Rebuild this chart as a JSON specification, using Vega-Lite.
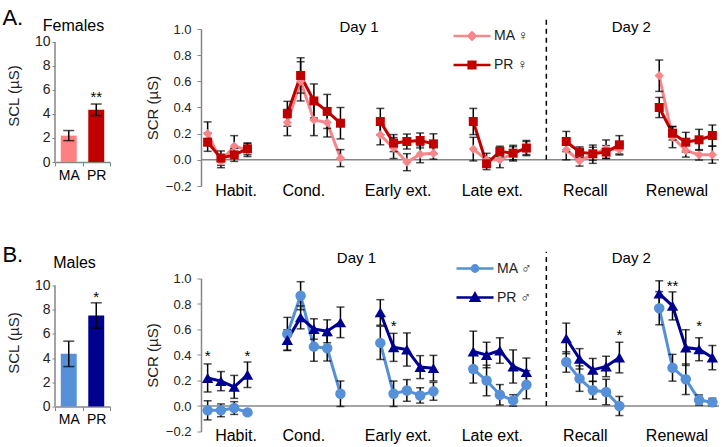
{
  "$schema": "https://vega.github.io/schema/vega-lite/v6.json",
  "padding": {"left": 2, "top": 6, "right": 2, "bottom": 2},
  "config": {
    "font": "Liberation Sans",
    "view": {"stroke": null},
    "axis": {"grid": false, "domainColor": "#868686", "tickColor": "#868686", "labelColor": "#222222", "titleColor": "#222222", "titleFontWeight": "normal", "domainWidth": 1.5, "labelOverlap": false, "tickCount": 20}
  },
  "resolve": {"scale": {"x": "independent", "y": "independent", "color": "independent"}},
  "datasets": {
    "fem": [
      {"g": "MA ♀", "p": "H", "x": 0.5, "v": 0.2, "e": 0.09},
      {"g": "MA ♀", "p": "H", "x": 1.5, "v": -0.01, "e": 0.05},
      {"g": "MA ♀", "p": "H", "x": 2.5, "v": 0.105, "e": 0.08},
      {"g": "MA ♀", "p": "H", "x": 3.5, "v": 0.075, "e": 0.05},
      {"g": "MA ♀", "p": "C", "x": 6.5, "v": 0.285, "e": 0.1},
      {"g": "MA ♀", "p": "C", "x": 7.5, "v": 0.6, "e": 0.15},
      {"g": "MA ♀", "p": "C", "x": 8.5, "v": 0.305, "e": 0.12},
      {"g": "MA ♀", "p": "C", "x": 9.5, "v": 0.285, "e": 0.11},
      {"g": "MA ♀", "p": "C", "x": 10.5, "v": 0.013, "e": 0.065},
      {"g": "MA ♀", "p": "E", "x": 13.5, "v": 0.19, "e": 0.075},
      {"g": "MA ♀", "p": "E", "x": 14.5, "v": 0.09, "e": 0.08},
      {"g": "MA ♀", "p": "E", "x": 15.5, "v": -0.018, "e": 0.065},
      {"g": "MA ♀", "p": "E", "x": 16.5, "v": 0.043, "e": 0.065},
      {"g": "MA ♀", "p": "E", "x": 17.5, "v": 0.05, "e": 0.045},
      {"g": "MA ♀", "p": "L", "x": 20.5, "v": 0.082, "e": 0.09},
      {"g": "MA ♀", "p": "L", "x": 21.5, "v": 0.0, "e": 0.05},
      {"g": "MA ♀", "p": "L", "x": 22.5, "v": 0.0, "e": 0.06},
      {"g": "MA ♀", "p": "L", "x": 23.5, "v": 0.05, "e": 0.05},
      {"g": "MA ♀", "p": "L", "x": 24.5, "v": 0.09, "e": 0.05},
      {"g": "MA ♀", "p": "R", "x": 27.5, "v": 0.077, "e": 0.077},
      {"g": "MA ♀", "p": "R", "x": 28.5, "v": -0.008, "e": 0.04},
      {"g": "MA ♀", "p": "R", "x": 29.5, "v": 0.043, "e": 0.07},
      {"g": "MA ♀", "p": "R", "x": 30.5, "v": 0.082, "e": 0.07},
      {"g": "MA ♀", "p": "R", "x": 31.5, "v": 0.077, "e": 0.04},
      {"g": "MA ♀", "p": "N", "x": 34.5, "v": 0.643, "e": 0.12},
      {"g": "MA ♀", "p": "N", "x": 35.5, "v": 0.173, "e": 0.08},
      {"g": "MA ♀", "p": "N", "x": 36.5, "v": 0.071, "e": 0.05},
      {"g": "MA ♀", "p": "N", "x": 37.5, "v": 0.038, "e": 0.04},
      {"g": "MA ♀", "p": "N", "x": 38.5, "v": 0.038, "e": 0.065},
      {"g": "PR ♀", "p": "H", "x": 0.5, "v": 0.135, "e": 0.07},
      {"g": "PR ♀", "p": "H", "x": 1.5, "v": 0.013, "e": 0.055},
      {"g": "PR ♀", "p": "H", "x": 2.5, "v": 0.038, "e": 0.05},
      {"g": "PR ♀", "p": "H", "x": 3.5, "v": 0.084, "e": 0.045},
      {"g": "PR ♀", "p": "C", "x": 6.5, "v": 0.352, "e": 0.095},
      {"g": "PR ♀", "p": "C", "x": 7.5, "v": 0.645, "e": 0.135},
      {"g": "PR ♀", "p": "C", "x": 8.5, "v": 0.45, "e": 0.13},
      {"g": "PR ♀", "p": "C", "x": 9.5, "v": 0.37, "e": 0.13},
      {"g": "PR ♀", "p": "C", "x": 10.5, "v": 0.28, "e": 0.12},
      {"g": "PR ♀", "p": "E", "x": 13.5, "v": 0.293, "e": 0.1},
      {"g": "PR ♀", "p": "E", "x": 14.5, "v": 0.128, "e": 0.065},
      {"g": "PR ♀", "p": "E", "x": 15.5, "v": 0.14, "e": 0.057},
      {"g": "PR ♀", "p": "E", "x": 16.5, "v": 0.148, "e": 0.057},
      {"g": "PR ♀", "p": "E", "x": 17.5, "v": 0.122, "e": 0.077},
      {"g": "PR ♀", "p": "L", "x": 20.5, "v": 0.293, "e": 0.1},
      {"g": "PR ♀", "p": "L", "x": 21.5, "v": -0.03, "e": 0.045},
      {"g": "PR ♀", "p": "L", "x": 22.5, "v": 0.064, "e": 0.04},
      {"g": "PR ♀", "p": "L", "x": 23.5, "v": 0.051, "e": 0.06},
      {"g": "PR ♀", "p": "L", "x": 24.5, "v": 0.09, "e": 0.058},
      {"g": "PR ♀", "p": "R", "x": 27.5, "v": 0.14, "e": 0.077},
      {"g": "PR ♀", "p": "R", "x": 28.5, "v": 0.059, "e": 0.04},
      {"g": "PR ♀", "p": "R", "x": 29.5, "v": 0.046, "e": 0.05},
      {"g": "PR ♀", "p": "R", "x": 30.5, "v": 0.059, "e": 0.05},
      {"g": "PR ♀", "p": "R", "x": 31.5, "v": 0.115, "e": 0.07},
      {"g": "PR ♀", "p": "N", "x": 34.5, "v": 0.4, "e": 0.077},
      {"g": "PR ♀", "p": "N", "x": 35.5, "v": 0.204, "e": 0.052},
      {"g": "PR ♀", "p": "N", "x": 36.5, "v": 0.135, "e": 0.075},
      {"g": "PR ♀", "p": "N", "x": 37.5, "v": 0.153, "e": 0.08},
      {"g": "PR ♀", "p": "N", "x": 38.5, "v": 0.186, "e": 0.08}
    ],
    "mal": [
      {"g": "MA ♂", "p": "H", "x": 0.5, "v": -0.034, "e": 0.075},
      {"g": "MA ♂", "p": "H", "x": 1.5, "v": -0.034, "e": 0.05},
      {"g": "MA ♂", "p": "H", "x": 2.5, "v": -0.016, "e": 0.05},
      {"g": "MA ♂", "p": "H", "x": 3.5, "v": -0.05, "e": 0.015},
      {"g": "MA ♂", "p": "C", "x": 6.5, "v": 0.565, "e": 0.13},
      {"g": "MA ♂", "p": "C", "x": 7.5, "v": 0.865, "e": 0.11},
      {"g": "MA ♂", "p": "C", "x": 8.5, "v": 0.466, "e": 0.115},
      {"g": "MA ♂", "p": "C", "x": 9.5, "v": 0.453, "e": 0.1},
      {"g": "MA ♂", "p": "C", "x": 10.5, "v": 0.096, "e": 0.1},
      {"g": "MA ♂", "p": "E", "x": 13.5, "v": 0.495, "e": 0.13},
      {"g": "MA ♂", "p": "E", "x": 14.5, "v": 0.096, "e": 0.1},
      {"g": "MA ♂", "p": "E", "x": 15.5, "v": 0.122, "e": 0.085},
      {"g": "MA ♂", "p": "E", "x": 16.5, "v": 0.083, "e": 0.06},
      {"g": "MA ♂", "p": "E", "x": 17.5, "v": 0.115, "e": 0.07},
      {"g": "MA ♂", "p": "L", "x": 20.5, "v": 0.29, "e": 0.11},
      {"g": "MA ♂", "p": "L", "x": 21.5, "v": 0.2, "e": 0.12},
      {"g": "MA ♂", "p": "L", "x": 22.5, "v": 0.088, "e": 0.08},
      {"g": "MA ♂", "p": "L", "x": 23.5, "v": 0.044, "e": 0.045},
      {"g": "MA ♂", "p": "L", "x": 24.5, "v": 0.167, "e": 0.11},
      {"g": "MA ♂", "p": "R", "x": 27.5, "v": 0.345, "e": 0.08},
      {"g": "MA ♂", "p": "R", "x": 28.5, "v": 0.215, "e": 0.1},
      {"g": "MA ♂", "p": "R", "x": 29.5, "v": 0.123, "e": 0.07},
      {"g": "MA ♂", "p": "R", "x": 30.5, "v": 0.11, "e": 0.1},
      {"g": "MA ♂", "p": "R", "x": 31.5, "v": 0.0, "e": 0.075},
      {"g": "MA ♂", "p": "N", "x": 34.5, "v": 0.767, "e": 0.13},
      {"g": "MA ♂", "p": "N", "x": 35.5, "v": 0.3, "e": 0.105},
      {"g": "MA ♂", "p": "N", "x": 36.5, "v": 0.21, "e": 0.12},
      {"g": "MA ♂", "p": "N", "x": 37.5, "v": 0.047, "e": 0.04},
      {"g": "MA ♂", "p": "N", "x": 38.5, "v": 0.03, "e": 0.03},
      {"g": "PR ♂", "p": "H", "x": 0.5, "v": 0.22, "e": 0.11},
      {"g": "PR ♂", "p": "H", "x": 1.5, "v": 0.195, "e": 0.075},
      {"g": "PR ♂", "p": "H", "x": 2.5, "v": 0.15, "e": 0.09},
      {"g": "PR ♂", "p": "H", "x": 3.5, "v": 0.245, "e": 0.1},
      {"g": "PR ♂", "p": "C", "x": 6.5, "v": 0.518, "e": 0.08},
      {"g": "PR ♂", "p": "C", "x": 7.5, "v": 0.695, "e": 0.09},
      {"g": "PR ♂", "p": "C", "x": 8.5, "v": 0.604, "e": 0.08},
      {"g": "PR ♂", "p": "C", "x": 9.5, "v": 0.586, "e": 0.09},
      {"g": "PR ♂", "p": "C", "x": 10.5, "v": 0.656, "e": 0.12},
      {"g": "PR ♂", "p": "E", "x": 13.5, "v": 0.734, "e": 0.1},
      {"g": "PR ♂", "p": "E", "x": 14.5, "v": 0.46, "e": 0.11},
      {"g": "PR ♂", "p": "E", "x": 15.5, "v": 0.443, "e": 0.13},
      {"g": "PR ♂", "p": "E", "x": 16.5, "v": 0.305, "e": 0.09},
      {"g": "PR ♂", "p": "E", "x": 17.5, "v": 0.297, "e": 0.1},
      {"g": "PR ♂", "p": "L", "x": 20.5, "v": 0.427, "e": 0.16},
      {"g": "PR ♂", "p": "L", "x": 21.5, "v": 0.4, "e": 0.1},
      {"g": "PR ♂", "p": "L", "x": 22.5, "v": 0.435, "e": 0.1},
      {"g": "PR ♂", "p": "L", "x": 23.5, "v": 0.31, "e": 0.13},
      {"g": "PR ♂", "p": "L", "x": 24.5, "v": 0.266, "e": 0.11},
      {"g": "PR ♂", "p": "R", "x": 27.5, "v": 0.53, "e": 0.12},
      {"g": "PR ♂", "p": "R", "x": 28.5, "v": 0.37, "e": 0.08},
      {"g": "PR ♂", "p": "R", "x": 29.5, "v": 0.283, "e": 0.09},
      {"g": "PR ♂", "p": "R", "x": 30.5, "v": 0.31, "e": 0.08},
      {"g": "PR ♂", "p": "R", "x": 31.5, "v": 0.38, "e": 0.12},
      {"g": "PR ♂", "p": "N", "x": 34.5, "v": 0.882, "e": 0.1},
      {"g": "PR ♂", "p": "N", "x": 35.5, "v": 0.785, "e": 0.11},
      {"g": "PR ♂", "p": "N", "x": 36.5, "v": 0.458, "e": 0.14},
      {"g": "PR ♂", "p": "N", "x": 37.5, "v": 0.445, "e": 0.09},
      {"g": "PR ♂", "p": "N", "x": 38.5, "v": 0.38, "e": 0.095}
    ],
    "ast": [
      {"x": 0.5, "y": 0.355, "t": "*"},
      {"x": 3.5, "y": 0.355, "t": "*"},
      {"x": 14.5, "y": 0.585, "t": "*"},
      {"x": 31.5, "y": 0.515, "t": "*"},
      {"x": 35.5, "y": 0.9, "t": "**"},
      {"x": 37.5, "y": 0.59, "t": "*"}
    ]
  },
  "spacing": 45.5,
  "vconcat": [
    {
      "title": {"text": "A.", "fontSize": 22, "fontWeight": "normal", "anchor": "start", "frame": "bounds", "offset": 0, "dy": 13.5, "dx": -4, "color": "black"},
      "spacing": 34,
      "resolve": {"scale": {"x": "independent", "y": "independent", "color": "independent"}},
      "hconcat": [
        {
          "width": 55, "height": 133,
          "title": {"text": "Females", "fontSize": 16, "fontWeight": "normal", "offset": -5, "dx": -9, "color": "black"},
          "data": {"values": [{"g": "MA", "v": 2.2, "e": 0.42}, {"g": "PR", "v": 4.35, "e": 0.48}]},
          "layer": [
            {
              "mark": {"type": "bar", "width": {"band": 0.58}},
              "encoding": {
                "x": {"field": "g", "type": "nominal", "scale": {"paddingInner": 0, "paddingOuter": 0}, "axis": {"title": null, "labelAngle": 0, "labelFontSize": 14, "labelColor": "black", "tickSize": 4, "tickBand": "extent", "labelPadding": 2}},
                "y": {"field": "v", "type": "quantitative", "title": "SCL (µS)", "scale": {"domain": [0, 11.08], "nice": false}, "axis": {"values": [0, 2, 4, 6, 8, 10], "format": "d", "tickCount": 20, "tickSize": 3, "labelPadding": 2, "labelFontSize": 14, "titleFontSize": 15, "titlePadding": 13, "domain": false}},
                "color": {"field": "g", "type": "nominal", "scale": {"domain": ["MA", "PR"], "range": ["#ff8080", "#c00000"]}, "legend": null}
              }
            },
            {
              "data": {"values": [{}]},
              "mark": {"type": "rule", "color": "#868686", "strokeWidth": 1.5},
              "encoding": {"x": {"datum": "MA", "bandPosition": 0}, "y": {"datum": 0}, "y2": {"datum": 10}}
            },
            {
              "mark": {"type": "errorbar", "ticks": true, "color": "black", "thickness": 1.5, "size": 11},
              "encoding": {
                "x": {"field": "g", "type": "nominal"},
                "y": {"field": "v", "type": "quantitative", "title": "SCL (µS)"},
                "yError": {"field": "e"}
              }
            },
            {
              "data": {"values": [{}]},
              "mark": {"type": "text", "text": "**", "fontSize": 15, "baseline": "alphabetic", "color": "black"},
              "encoding": {"x": {"datum": "PR"}, "y": {"datum": 5.0}}
            }
          ]
        },
        {
          "width": 518, "height": 157,
          "layer": [
            {
              "data": {"values": [{}]},
              "mark": {"type": "rule", "color": "#868686", "strokeWidth": 1.5},
              "encoding": {"y": {"datum": 0, "type": "quantitative"}}
            },
            {
              "data": {"values": [{}]},
              "mark": {"type": "rule", "color": "black", "strokeWidth": 1.5, "strokeDash": [5, 4]},
              "encoding": {"x": {"datum": 26, "type": "quantitative"}, "y": {"datum": 0, "type": "quantitative"}, "y2": {"datum": 1.093}}
            },
            {
              "data": {"values": [{}]},
              "mark": {"type": "text", "text": "Day 1", "fontSize": 15, "baseline": "alphabetic", "color": "black"},
              "encoding": {"x": {"datum": 11.9, "type": "quantitative"}, "y": {"datum": 0.98, "type": "quantitative"}}
            },
            {
              "data": {"values": [{}]},
              "mark": {"type": "text", "text": "Day 2", "fontSize": 15, "baseline": "alphabetic", "color": "black"},
              "encoding": {"x": {"datum": 32.4, "type": "quantitative"}, "y": {"datum": 0.98, "type": "quantitative"}}
            },
            {
              "data": {"name": "fem"},
              "mark": {"type": "line", "strokeWidth": 3},
              "encoding": {
                "x": {"field": "x", "type": "quantitative", "title": null, "scale": {"domain": [0, 39], "nice": false, "zero": false},
                  "axis": {"values": [2.6, 7.7, 14.8, 21.9, 28.9, 35.8], "tickCount": 40, "labelExpr": "datum.value < 5 ? 'Habit.' : datum.value < 11 ? 'Cond.' : datum.value < 18 ? 'Early ext.' : datum.value < 25 ? 'Late ext.' : datum.value < 32 ? 'Recall' : 'Renewal'", "domain": false, "ticks": false, "labelPadding": -4, "labelFontSize": 16, "labelColor": "black", "labelFlush": false, "labelOverlap": false, "labelBound": false}},
                "y": {"field": "v", "type": "quantitative", "title": "SCR (µS)", "scale": {"domain": [-0.2, 1.0], "nice": false, "zero": false},
                  "axis": {"values": [-0.2, 0, 0.2, 0.4, 0.6, 0.8, 1.0], "tickCount": 20, "format": ".1f", "tickSize": 4, "labelPadding": 6, "labelFontSize": 13, "titleFontSize": 15, "titlePadding": 5, "labelOverlap": false}},
                "color": {"field": "g", "type": "nominal", "scale": {"domain": ["MA ♀", "PR ♀"], "range": ["#f7868a", "#c00000"]},
                  "legend": {"orient": "none", "legendX": 251, "legendY": -13, "title": null, "labelFontSize": 14, "labelColor": "#222222", "symbolSize": 1369, "symbolStrokeWidth": 2.5, "labelOffset": 2, "rowPadding": -16, "padding": 0,
                    "encode": {"symbols": {"update": {
                      "shape": {"signal": "datum.value == 'MA ♀' ? 'M-1,0L1,0M0,-0.2L0.2,0L0,0.2L-0.2,0Z' : 'M-1,0L1,0M-0.18,-0.18L0.18,-0.18L0.18,0.18L-0.18,0.18Z'"},
                      "fill": {"signal": "datum.value == 'MA ♀' ? '#f7868a' : '#c00000'"},
                      "stroke": {"signal": "datum.value == 'MA ♀' ? '#f7868a' : '#c00000'"},
                      "strokeWidth": {"value": 2.5},
                      "opacity": {"value": 1}
                    }}}}},
                "detail": {"field": "p"}
              }
            },
            {
              "data": {"name": "fem"},
              "mark": {"type": "errorbar", "ticks": true, "color": "black", "thickness": 1.5, "size": 8},
              "encoding": {
                "x": {"field": "x", "type": "quantitative", "title": null},
                "y": {"field": "v", "type": "quantitative", "title": "SCR (µS)"},
                "yError": {"field": "e"}
              }
            },
            {
              "data": {"name": "fem"},
              "transform": [{"filter": "datum.g == 'MA ♀'"}],
              "mark": {"type": "point", "filled": true, "opacity": 1, "size": 85, "shape": "diamond", "color": "#f7868a"},
              "encoding": {
                "x": {"field": "x", "type": "quantitative", "title": null},
                "y": {"field": "v", "type": "quantitative", "title": "SCR (µS)"}
              }
            },
            {
              "data": {"name": "fem"},
              "transform": [{"filter": "datum.g == 'PR ♀'"}],
              "mark": {"type": "point", "filled": true, "opacity": 1, "size": 81, "shape": "square", "color": "#c00000"},
              "encoding": {
                "x": {"field": "x", "type": "quantitative", "title": null},
                "y": {"field": "v", "type": "quantitative", "title": "SCR (µS)"}
              }
            }
          ]
        }
      ]
    },
    {
      "title": {"text": "B.", "fontSize": 22, "fontWeight": "normal", "anchor": "start", "frame": "bounds", "offset": 0, "dy": 18.5, "dx": -4, "color": "black"},
      "spacing": 34,
      "resolve": {"scale": {"x": "independent", "y": "independent", "color": "independent"}},
      "hconcat": [
        {
          "width": 55, "height": 128,
          "title": {"text": "Males", "fontSize": 16, "fontWeight": "normal", "offset": 8, "dx": -8, "color": "black"},
          "data": {"values": [{"g": "MA", "v": 4.35, "e": 1.05}, {"g": "PR", "v": 7.52, "e": 1.05}]},
          "layer": [
            {
              "mark": {"type": "bar", "width": {"band": 0.58}},
              "encoding": {
                "x": {"field": "g", "type": "nominal", "scale": {"paddingInner": 0, "paddingOuter": 0}, "axis": {"title": null, "labelAngle": 0, "labelFontSize": 14, "labelColor": "black", "tickSize": 4, "tickBand": "extent", "labelPadding": 2}},
                "y": {"field": "v", "type": "quantitative", "title": "SCL (µS)", "scale": {"domain": [0, 10.58], "nice": false}, "axis": {"values": [0, 2, 4, 6, 8, 10], "format": "d", "tickCount": 20, "tickSize": 3, "labelPadding": 2, "labelFontSize": 14, "titleFontSize": 15, "titlePadding": 13, "domain": false}},
                "color": {"field": "g", "type": "nominal", "scale": {"domain": ["MA", "PR"], "range": ["#5590d9", "#000090"]}, "legend": null}
              }
            },
            {
              "data": {"values": [{}]},
              "mark": {"type": "rule", "color": "#868686", "strokeWidth": 1.5},
              "encoding": {"x": {"datum": "MA", "bandPosition": 0}, "y": {"datum": 0}, "y2": {"datum": 10}}
            },
            {
              "mark": {"type": "errorbar", "ticks": true, "color": "black", "thickness": 1.5, "size": 11},
              "encoding": {
                "x": {"field": "g", "type": "nominal"},
                "y": {"field": "v", "type": "quantitative", "title": "SCL (µS)"},
                "yError": {"field": "e"}
              }
            },
            {
              "data": {"values": [{}]},
              "mark": {"type": "text", "text": "*", "fontSize": 15, "baseline": "alphabetic", "color": "black"},
              "encoding": {"x": {"datum": "PR"}, "y": {"datum": 8.65}}
            }
          ]
        },
        {
          "width": 518, "height": 153,
          "layer": [
            {
              "data": {"values": [{}]},
              "mark": {"type": "rule", "color": "#868686", "strokeWidth": 1.5},
              "encoding": {"y": {"datum": 0, "type": "quantitative"}}
            },
            {
              "data": {"values": [{}]},
              "mark": {"type": "rule", "color": "black", "strokeWidth": 1.5, "strokeDash": [5, 4]},
              "encoding": {"x": {"datum": 26, "type": "quantitative"}, "y": {"datum": 0, "type": "quantitative"}, "y2": {"datum": 1.21}}
            },
            {
              "data": {"values": [{}]},
              "mark": {"type": "text", "text": "Day 1", "fontSize": 15, "baseline": "alphabetic", "color": "black"},
              "encoding": {"x": {"datum": 11.7, "type": "quantitative"}, "y": {"datum": 1.118, "type": "quantitative"}}
            },
            {
              "data": {"values": [{}]},
              "mark": {"type": "text", "text": "Day 2", "fontSize": 15, "baseline": "alphabetic", "color": "black"},
              "encoding": {"x": {"datum": 32.4, "type": "quantitative"}, "y": {"datum": 1.118, "type": "quantitative"}}
            },
            {
              "data": {"name": "mal"},
              "mark": {"type": "line", "strokeWidth": 3},
              "encoding": {
                "x": {"field": "x", "type": "quantitative", "title": null, "scale": {"domain": [0, 39], "nice": false, "zero": false},
                  "axis": {"values": [2.6, 7.7, 14.8, 21.9, 28.9, 35.8], "tickCount": 40, "labelExpr": "datum.value < 5 ? 'Habit.' : datum.value < 11 ? 'Cond.' : datum.value < 18 ? 'Early ext.' : datum.value < 25 ? 'Late ext.' : datum.value < 32 ? 'Recall' : 'Renewal'", "domain": false, "ticks": false, "labelPadding": -4, "labelFontSize": 16, "labelColor": "black", "labelFlush": false, "labelOverlap": false, "labelBound": false}},
                "y": {"field": "v", "type": "quantitative", "title": "SCR (µS)", "scale": {"domain": [-0.2, 1.0], "nice": false, "zero": false},
                  "axis": {"values": [-0.2, 0, 0.2, 0.4, 0.6, 0.8, 1.0], "tickCount": 20, "format": ".1f", "tickSize": 4, "labelPadding": 6, "labelFontSize": 13, "titleFontSize": 15, "titlePadding": 5, "labelOverlap": false}},
                "color": {"field": "g", "type": "nominal", "scale": {"domain": ["MA ♂", "PR ♂"], "range": ["#5590d9", "#000090"]},
                  "legend": {"orient": "none", "legendX": 254, "legendY": -30, "title": null, "labelFontSize": 14, "labelColor": "#222222", "symbolSize": 1369, "symbolStrokeWidth": 2.5, "labelOffset": 2, "rowPadding": -15, "padding": 0,
                    "encode": {"symbols": {"update": {
                      "shape": {"signal": "datum.value == 'MA ♂' ? 'M-1,0L1,0M0.17,0A0.17,0.17,0,1,1,-0.17,0A0.17,0.17,0,1,1,0.17,0Z' : 'M-1,0L1,0M0,-0.21L0.22,0.17L-0.22,0.17Z'"},
                      "fill": {"signal": "datum.value == 'MA ♂' ? '#5590d9' : '#000090'"},
                      "stroke": {"signal": "datum.value == 'MA ♂' ? '#5590d9' : '#000090'"},
                      "strokeWidth": {"value": 2.5},
                      "opacity": {"value": 1}
                    }}}}},
                "detail": {"field": "p"}
              }
            },
            {
              "data": {"name": "mal"},
              "mark": {"type": "errorbar", "ticks": true, "color": "black", "thickness": 1.5, "size": 8},
              "encoding": {
                "x": {"field": "x", "type": "quantitative", "title": null},
                "y": {"field": "v", "type": "quantitative", "title": "SCR (µS)"},
                "yError": {"field": "e"}
              }
            },
            {
              "data": {"name": "mal"},
              "transform": [{"filter": "datum.g == 'MA ♂'"}],
              "mark": {"type": "point", "filled": true, "opacity": 1, "size": 110, "shape": "circle", "color": "#5590d9"},
              "encoding": {
                "x": {"field": "x", "type": "quantitative", "title": null},
                "y": {"field": "v", "type": "quantitative", "title": "SCR (µS)"}
              }
            },
            {
              "data": {"name": "mal"},
              "transform": [{"filter": "datum.g == 'PR ♂'"}],
              "mark": {"type": "point", "filled": true, "opacity": 1, "size": 130, "shape": "triangle-up", "color": "#000090"},
              "encoding": {
                "x": {"field": "x", "type": "quantitative", "title": null},
                "y": {"field": "v", "type": "quantitative", "title": "SCR (µS)"}
              }
            },
            {
              "data": {"name": "ast"},
              "mark": {"type": "text", "fontSize": 15, "baseline": "alphabetic", "color": "black"},
              "encoding": {
                "x": {"field": "x", "type": "quantitative", "title": null},
                "y": {"field": "y", "type": "quantitative", "title": "SCR (µS)"},
                "text": {"field": "t"}
              }
            }
          ]
        }
      ]
    }
  ]
}
